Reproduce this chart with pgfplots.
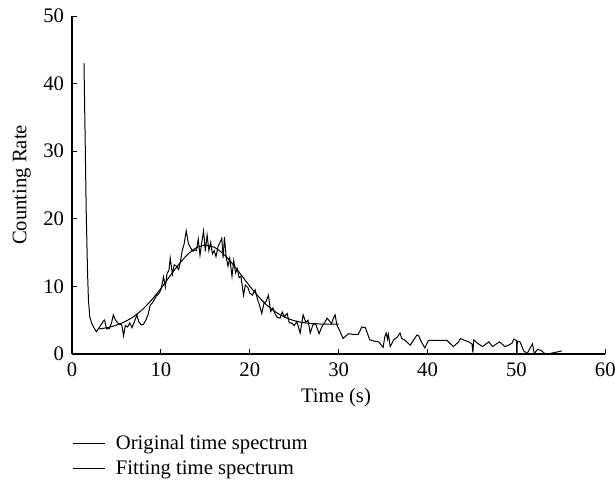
\documentclass[border=0pt]{standalone}
\usepackage{pgfplots}
\pgfplotsset{compat=1.18}
\usepackage{fontspec}
\setmainfont{Liberation Serif}

\begin{document}
\begin{tikzpicture}
\useasboundingbox (-54pt,-96.75pt) rectangle (407.25pt,265.5pt);
\begin{axis}[
    at={(0,0)}, anchor=origin,
    scale only axis,
    width=400pt, height=253.5pt,
    xmin=0, xmax=60,
    ymin=0, ymax=50,
    xtick={0,10,20,30,40,50,60},
    ytick={0,10,20,30,40,50},
    axis x line*=bottom,
    axis y line*=left,
    axis line style={line width=0.8pt, -},
    tick style={black, line width=0.6pt},
    tick align=inside,
    major tick length=4pt,
    font=\fontsize{15.5}{18}\selectfont,
    /pgf/number format/assume math mode=true,
    xticklabel style={yshift=-3pt},
    yticklabel style={xshift=-2.5pt},
    xlabel={Time (s)},
    ylabel={Counting Rate},
    xlabel style={at={(axis description cs:0.495,-0.13)}, anchor=center},
    ylabel style={at={(axis description cs:-0.094,0.5)}, anchor=center},
    clip=false,
    legend style={at={(0,-0.235)}, anchor=north west, draw=none, fill=none,
        inner sep=0pt, row sep=5pt,
        nodes={inner xsep=8pt, inner ysep=1pt}},
    legend cell align=left,
    legend image code/.code={\draw[#1] (0pt,0pt) -- (24pt,0pt);},
]
\addplot[black, line width=0.75pt] coordinates {
(1.35,43) (1.5,30) (1.6,21) (1.75,12) (1.85,8) (2.0,5.5) (2.2,4.6) (2.5,3.8)
(2.75,3.3) (3.0,3.8) (3.25,4.3) (3.5,4.8) (3.65,5.0) (3.9,3.7) (4.2,3.8) (4.45,4.6)
(4.65,5.8) (4.9,5.0) (5.15,4.6) (5.4,4.4) (5.6,4.3) (5.8,2.7) (6.0,4.2) (6.25,4.0)
(6.5,4.6) (6.75,3.9) (7.0,4.7) (7.3,5.8) (7.5,4.8) (7.8,4.3) (8.05,4.4) (8.3,5.0)
(8.55,5.8) (8.8,7.2) (9.0,7.5) (9.25,8.0) (9.5,8.6) (9.75,8.9) (10.0,9.5) (10.3,11.4)
(10.5,9.9) (10.7,12.0) (10.9,12.3) (11.05,14.2) (11.3,11.8) (11.5,13.2) (11.75,13.0) (12.0,12.5)
(12.2,13.7) (12.4,15.3) (12.6,16.2) (12.85,18.2) (13.1,16.3) (13.35,15.7) (13.6,15.2) (13.85,15.4)
(14.0,15.3) (14.2,17.0) (14.4,14.6) (14.6,16.5) (14.8,18.2) (15.0,15.2) (15.2,17.6) (15.4,15.3)
(15.6,16.5) (15.8,14.8) (16.0,15.3) (16.2,14.4) (16.45,16.0) (16.65,16.5) (16.85,17.1) (17.0,14.2)
(17.15,17.3) (17.35,14.3) (17.55,13.0) (17.75,14.2) (18.0,11.5) (18.2,13.8) (18.4,12.0) (18.6,12.6)
(18.8,11.3) (19.0,11.5) (19.3,8.7) (19.5,10.2) (19.8,9.8) (20.0,9.0) (20.3,8.7) (20.6,9.5)
(20.85,8.2) (21.1,7.2) (21.35,6.0) (21.6,7.5) (21.85,7.8) (22.1,8.7) (22.35,6.3) (22.6,6.8)
(22.85,5.9) (23.1,5.4) (23.4,5.3) (23.65,6.2) (23.9,5.5) (24.2,6.0) (24.45,4.6) (24.7,4.6)
(25.0,4.2) (25.3,4.8) (25.67,3.1) (26.0,5.8) (26.3,4.7) (26.55,5.0) (26.8,3.1) (27.1,4.3)
(27.4,4.5) (27.8,3.0) (28.1,4.0) (28.4,4.6) (28.7,5.3) (28.95,4.9) (29.2,4.5) (29.4,5.3)
(29.6,5.8) (29.8,4.3) (30.1,3.5) (30.5,2.3) (31.1,3.0) (31.6,2.9) (32.2,2.9) (32.6,4.0)
(33.0,3.9) (33.5,2.1) (34.0,1.9) (34.5,1.8) (35.0,0.98) (35.2,2.6) (35.35,3.1) (35.5,2.2)
(35.6,2.9) (35.8,1.1) (36.2,2.1) (36.6,2.5) (36.9,3.1) (37.1,2.3) (37.5,2.0) (38.05,1.3)
(38.5,2.2) (38.8,2.8) (39.0,2.7) (39.3,1.8) (39.7,0.9) (40.1,2.0) (41.0,2.0) (42.2,2.0)
(42.9,1.1) (43.5,1.8) (43.7,2.3) (44.2,2.0) (44.6,1.8) (45.0,1.5) (45.1,0.2) (45.2,2.1)
(45.6,1.6) (46.2,1.1) (46.9,1.8) (47.3,1.1) (48.1,1.8) (48.7,1.1) (49.1,1.3) (49.5,1.6)
(49.7,2.2) (50.0,2.0) (50.06,0.05) (50.1,1.9) (50.4,1.8) (50.8,0.5) (51.2,0.05) (51.8,1.5)
(52.0,0.1) (52.4,0.7) (52.8,0.5) (53.2,0.05) (53.7,0.05) (55.1,0.45)
};
\addlegendentry{Original time spectrum}
\addplot[black, line width=0.75pt, smooth] coordinates {
(3,3.70) (4,3.91) (5,4.27) (6,4.81) (7,5.59) (8,6.68) (9,8.06) (10,9.70)
(11,11.49) (12,13.23) (13,14.71) (14,15.73) (15,16.10) (16,15.79) (17,14.85) (18,13.43)
(19,11.75) (20,10.04) (21,8.46) (22,7.14) (23,6.13) (24,5.41) (25,4.93) (26,4.65)
(27,4.50) (28,4.43) (29,4.42) (30,4.42)
};
\addlegendentry{Fitting time spectrum}
\end{axis}
\end{tikzpicture}
\end{document}
